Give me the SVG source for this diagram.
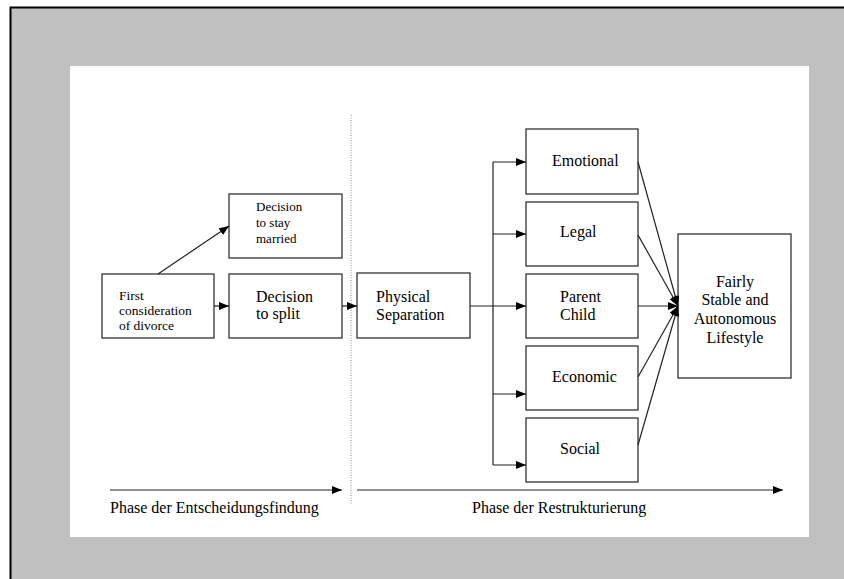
<svg xmlns="http://www.w3.org/2000/svg" width="844" height="579" viewBox="0 0 844 579">
<defs>
<marker id="ah" markerUnits="userSpaceOnUse" markerWidth="11" markerHeight="9" refX="10" refY="4" orient="auto">
<path d="M0,0 L10,4 L0,8 z" fill="#000"/>
</marker>
<style>
.box{fill:#fff;stroke:#333;stroke-width:1.3}
text{font-family:'Liberation Serif','DejaVu Serif',serif;font-size:16px;fill:#000}
text.s{font-size:13px}
text.f{font-size:13.5px}
.c{stroke:#222;stroke-width:1.2;fill:none}
.a{marker-end:url(#ah)}
</style>
</defs>
<rect x="0" y="0" width="844" height="579" fill="#fff"/>
<rect x="10.5" y="7.5" width="840" height="580" fill="#c0c0c0" stroke="#000" stroke-width="2"/>
<rect x="70" y="66" width="739" height="471" fill="#fff"/>
<line x1="351" y1="115" x2="351" y2="505" stroke="#888" stroke-width="1" stroke-dasharray="1,1.5"/>

<g id="first"><rect class="box" x="102" y="274" width="112" height="64"/>
<text class="f" x="119" y="300">First</text>
<text class="f" x="119" y="315">consideration</text>
<text class="f" x="119" y="330">of divorce</text></g>

<g id="stay"><rect class="box" x="229" y="194" width="113" height="64"/>
<text class="s" x="256" y="211">Decision</text>
<text class="s" x="256" y="227">to stay</text>
<text class="s" x="256" y="243">married</text></g>

<g id="split"><rect class="box" x="229" y="274" width="113" height="64"/>
<text x="256" y="302">Decision</text>
<text x="256" y="319">to split</text></g>

<g id="phys"><rect class="box" x="357" y="273" width="113" height="65"/>
<text x="376" y="302">Physical</text>
<text x="376" y="320">Separation</text></g>

<g id="emotional"><rect class="box" x="526" y="129" width="112" height="65"/>
<text x="552" y="166">Emotional</text></g>

<g id="legal"><rect class="box" x="526" y="202" width="112" height="64"/>
<text x="560" y="237">Legal</text></g>

<g id="parent"><rect class="box" x="526" y="274" width="112" height="64"/>
<text x="560" y="302">Parent</text>
<text x="560" y="320">Child</text></g>

<g id="economic"><rect class="box" x="526" y="346" width="112" height="64"/>
<text x="552" y="382">Economic</text></g>

<g id="social"><rect class="box" x="526" y="418" width="112" height="64"/>
<text x="560" y="454">Social</text></g>

<g id="fairly"><rect class="box" x="678" y="234" width="113" height="144"/>
<text text-anchor="middle" x="735" y="287">Fairly</text>
<text text-anchor="middle" x="735" y="305">Stable and</text>
<text text-anchor="middle" x="735" y="324">Autonomous</text>
<text text-anchor="middle" x="735" y="343">Lifestyle</text></g>

<g id="connectors">
<line class="c a" x1="158" y1="274" x2="229" y2="226"/>
<line class="c a" x1="214" y1="306" x2="229" y2="306"/>
<line class="c a" x1="342" y1="306" x2="357" y2="306"/>
<line class="c a" x1="470" y1="306" x2="526" y2="306"/>
<line class="c" x1="493" y1="162" x2="493" y2="465"/>
<line class="c a" x1="493" y1="162" x2="526" y2="162"/>
<line class="c a" x1="493" y1="234" x2="526" y2="234"/>
<line class="c a" x1="493" y1="394" x2="526" y2="394"/>
<line class="c a" x1="493" y1="465" x2="526" y2="465"/>
<line class="c a" x1="638" y1="162" x2="678" y2="306"/>
<line class="c a" x1="638" y1="235" x2="678" y2="306"/>
<line class="c a" x1="638" y1="306" x2="678" y2="306"/>
<line class="c a" x1="638" y1="377" x2="678" y2="306"/>
<line class="c a" x1="638" y1="445" x2="678" y2="306"/>
<line class="c a" x1="110" y1="490" x2="342" y2="490"/>
<line class="c a" x1="357" y1="490" x2="783" y2="490"/>
</g>
<text x="110" y="513">Phase der Entscheidungsfindung</text>
<text x="472" y="513">Phase der Restrukturierung</text>
</svg>
